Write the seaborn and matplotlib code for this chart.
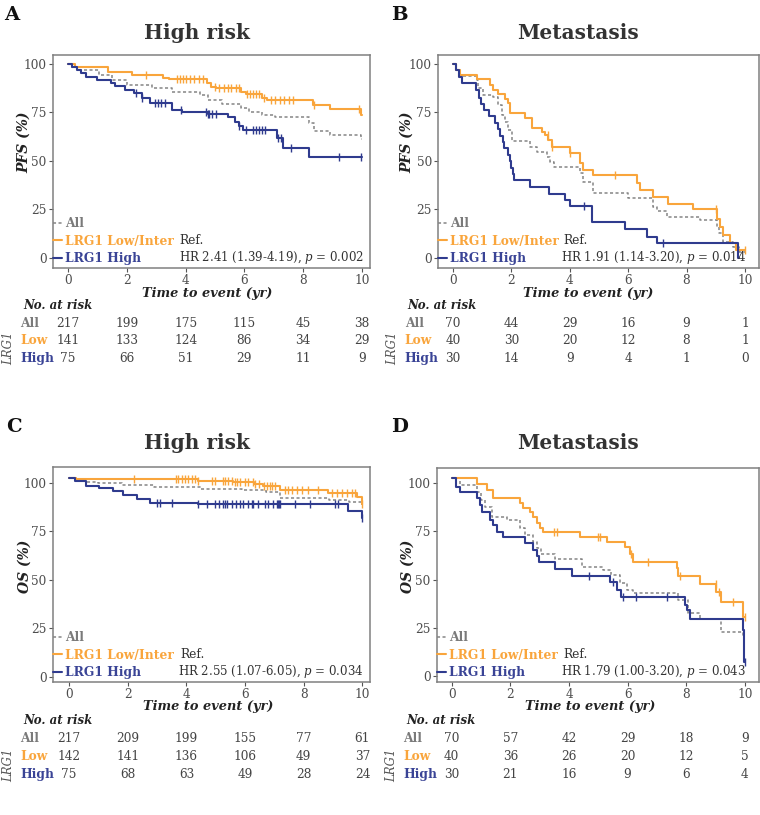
import matplotlib
matplotlib.use("Agg")
import matplotlib.pyplot as plt
import numpy as np
import seaborn as sns

sns.set_theme(style="white")
plt.rcParams["font.family"] = ["DejaVu Serif"]
plt.rcParams["mathtext.fontset"] = "dejavuserif"

ORANGE = "#F9A53C"
BLUE = "#2F3B8E"
GRAY = "#858585"
TEXT = "#4D4D4D"

# ---- Panel A: PFS, high risk ----
A_all_t = [0, 0.15, 0.35, 1.05, 1.5, 2.0, 2.85, 3.55, 4.5, 4.75, 5.25, 5.9, 6.15, 6.6, 7.05, 8.2, 8.35, 8.9, 9.98, 10.0]
A_all_s = [100, 98.5, 96.9, 94.3, 91.8, 89.2, 87.5, 85.5, 84.0, 81.4, 79.2, 77.2, 75.1, 73.8, 72.5, 69.4, 65.5, 63.4, 61.3, 61.3]
A_low_t = [0, 0.25, 1.37, 2.17, 3.24, 3.45, 4.72, 4.85, 5.05, 5.9, 6.05, 6.59, 6.76, 8.34, 8.91, 9.98, 10.0]
A_low_s = [100, 98.3, 95.7, 94.3, 92.6, 92.0, 90.0, 88.3, 87.4, 85.7, 84.3, 82.6, 81.4, 78.9, 76.6, 73.7, 73.7]
A_low_c = [2.66, 3.7, 3.8, 3.9, 4.0, 4.15, 4.3, 4.45, 4.6, 5.0, 5.15, 5.3, 5.45, 5.55, 5.7, 5.8, 6.1, 6.2,
           6.3, 6.4, 6.5, 6.65, 6.9, 7.05, 7.2, 7.35, 7.5, 7.65, 8.35, 9.9]
A_high_t = [0, 0.15, 0.3, 0.45, 0.6, 0.99, 1.45, 1.6, 1.95, 2.25, 2.5, 2.79, 3.53, 3.87, 4.75, 5.45, 5.68, 5.8, 5.96, 7.1, 7.32, 8.2, 10.0]
A_high_s = [100, 98.3, 96.9, 95.2, 93.5, 91.8, 90.2, 88.5, 86.8, 84.8, 82.5, 79.7, 76.3, 75.4, 74.1, 72.4, 70.3, 68.0, 65.8, 62.0, 56.7, 52.1, 52.1]
A_high_c = [2.3, 2.5, 2.95, 3.05, 3.15, 3.3, 3.85, 4.7, 4.75, 4.8, 4.9, 5.05, 5.8, 6.05, 6.3, 6.4, 6.5, 6.6, 6.7,
            7.15, 7.25, 7.6, 9.2, 9.98]
A_risk_all = [217, 199, 175, 115, 45, 38]
A_risk_low = [141, 133, 124, 86, 34, 29]
A_risk_high = [75, 66, 51, 29, 11, 9]

# ---- Panel B: PFS, metastasis ----
B_all_t = [0, 0.1, 0.24, 0.81, 0.86, 1.04, 1.38, 1.55, 1.67, 1.78, 1.9, 2.01, 2.64, 2.87, 3.21, 3.32, 3.45, 4.35,
           4.46, 4.8, 6.0, 6.86, 7.0, 7.32, 8.46, 9.03, 9.1, 9.25, 9.6, 9.8, 10.0]
B_all_s = [100, 97, 94, 91.8, 87.5, 84, 83.2, 78.9, 73.7, 70.3, 66, 60.3, 57.4, 54.8, 52.2, 49.6, 47, 43.7,
           39.3, 33.3, 30.8, 26.5, 24, 21.3, 19.6, 16.1, 12.7, 8.4, 5.8, 3.3, 3.3]
B_low_t = [0, 0.1, 0.25, 0.82, 1.28, 1.39, 1.56, 1.79, 1.9, 1.96, 2.47, 2.7, 3.04, 3.16, 3.27, 3.39, 4.0, 4.36,
           4.45, 4.81, 6.29, 6.39, 6.86, 7.38, 8.23, 9.03, 9.15, 9.26, 9.49, 9.7, 10.0]
B_low_s = [100, 97, 94.5, 92.4, 89.3, 86.7, 84.5, 82, 80, 74.7, 72, 67.2, 65, 63.4, 60.9, 57, 54, 48.8,
           45.3, 42.8, 38.4, 35, 31.6, 28, 25, 20.3, 16, 11.7, 7.8, 4, 4]
B_low_c = [3.25, 3.4, 4.0, 5.55, 9.0, 10.0]
B_high_t = [0, 0.12, 0.2, 0.3, 0.8, 0.9, 0.95, 1.05, 1.25, 1.45, 1.55, 1.6, 1.7, 1.75, 1.9, 1.95, 2.0, 2.05,
            2.1, 2.65, 3.3, 3.85, 4.0, 4.75, 5.9, 6.64, 6.98, 9.75, 9.78]
B_high_s = [100, 97, 93.5, 90, 86.5, 82.4, 79.5, 76.5, 73, 69.8, 66.3, 63, 59.7, 56.5, 53, 50, 46.5, 43,
            40, 36.5, 33, 30, 26.6, 18.7, 15, 11, 7.5, 0, 0]
B_high_c = [4.49, 7.18]
B_risk_all = [70, 44, 29, 16, 9, 1]
B_risk_low = [40, 30, 20, 12, 8, 1]
B_risk_high = [30, 14, 9, 4, 1, 0]

# ---- Panel C: OS, high risk ----
C_all_t = [0, 0.2, 0.55, 1.0, 1.8, 2.9, 4.5, 5.9, 6.7, 7.2, 8.85, 9.55, 9.98, 10.0]
C_all_s = [102.2, 101.2, 100.4, 99.6, 98.8, 97.8, 97.0, 96.0, 95.0, 92.2, 91.2, 90.2, 88.5, 88.5]
C_low_t = [0, 0.25, 4.4, 5.6, 6.3, 6.6, 7.2, 8.84, 9.82, 9.98, 10.0]
C_low_s = [102.5, 101.9, 101.0, 100.2, 99.4, 98.4, 96.2, 94.5, 92.4, 88.8, 88.8]
C_low_c = [2.22, 3.64, 3.71, 3.84, 3.96, 4.07, 4.18, 4.3, 4.41, 4.86, 4.98, 5.26, 5.32, 5.43, 5.55, 5.66, 5.72,
           5.83, 6.0, 6.11, 6.28, 6.34, 6.46, 6.63, 6.74, 6.85, 6.91, 7.02, 7.36, 7.48, 7.59, 7.76, 7.93, 8.16,
           8.5, 8.95, 9.13, 9.3, 9.47, 9.64, 9.75, 10.0]
C_high_t = [0, 0.2, 0.57, 1.03, 1.5, 1.85, 2.33, 2.75, 4.41, 9.52, 9.98, 10.0]
C_high_s = [102.2, 101.1, 98.5, 97.3, 95.6, 93.9, 91.5, 89.8, 88.9, 85.5, 81.8, 81.8]
C_high_c = [2.99, 3.1, 3.5, 4.41, 4.7, 4.98, 5.1, 5.26, 5.32, 5.4, 5.55, 5.7, 5.83, 5.94, 6.11, 6.23, 6.28, 6.45,
            6.68, 6.79, 6.96, 7.1, 7.13, 7.16, 7.19, 7.7, 8.21, 9.06, 9.18, 9.98]
C_risk_all = [217, 209, 199, 155, 77, 61]
C_risk_low = [142, 141, 136, 106, 49, 37]
C_risk_high = [75, 68, 63, 49, 28, 24]

# ---- Panel D: OS, metastasis ----
D_all_t = [0, 0.28, 0.85, 1.0, 1.14, 1.36, 1.87, 2.33, 2.5, 2.78, 2.9, 3.06, 3.52, 4.43, 5.17, 5.45, 5.74, 5.97,
           6.2, 7.73, 8.07, 8.47, 9.2, 9.94, 10.0]
D_all_s = [102.6, 99.1, 95.7, 91.5, 87.9, 82.7, 81.0, 76.6, 73.1, 69.6, 66.2, 63.2, 60.5, 56.7, 55.0, 52.4, 48.0,
           44.6, 42.9, 39.4, 32.4, 29.3, 22.9, 19.4, 19.4]
D_low_t = [0, 0.85, 1.19, 1.42, 2.33, 2.44, 2.67, 2.78, 2.9, 3.0, 3.13, 4.38, 5.28, 5.91, 6.08, 6.19, 7.67, 7.73,
           8.47, 9.03, 9.2, 9.94, 10.0]
D_low_s = [102.6, 99.7, 96.5, 92.2, 89.6, 87.3, 85.3, 82.7, 79.2, 77, 74.5, 71.9, 69.3, 66.7, 63.3, 59.3, 55.8, 52,
           47.7, 43.3, 38.1, 30.3, 30.3]
D_low_c = [3.5, 3.6, 4.98, 5.05, 6.1, 6.7, 7.8, 9.0, 9.1, 9.6, 10.0]
D_high_t = [0, 0.15, 0.28, 0.85, 0.97, 1.05, 1.31, 1.4, 1.53, 1.76, 2.5, 2.78, 2.9, 2.99, 3.52, 4.11, 5.4, 5.63,
            5.76, 7.95, 8.03, 8.13, 9.94, 9.97, 10.0]
D_high_s = [102.6, 98.3, 95.7, 92.2, 88.7, 85.3, 80.9, 78.3, 74.9, 71.9, 68.8, 65.3, 62.4, 59.3, 55.3, 51.8, 48.5,
            44.5, 40.7, 36.7, 34.1, 29.5, 23.7, 7.3, 7.3]
D_high_c = [4.7, 5.5, 5.85, 6.3, 7.35, 10.0]
D_risk_all = [70, 57, 42, 29, 18, 9]
D_risk_low = [40, 36, 26, 20, 12, 5]
D_risk_high = [30, 21, 16, 9, 6, 4]

risk_times = [0, 2, 4, 6, 8, 10]
group_labels = ["All", "LRG1 Low/Inter", "LRG1 High"]
row_labels = ["All", "Low", "High"]
group_colors = [GRAY, ORANGE, BLUE]
label_colors = ["#7A7A7A", ORANGE, "#3A4496"]


def censor_y(t, s, cens):
    idx = np.searchsorted(t, cens, side="right") - 1
    return np.asarray(s)[idx]


def draw_panel(ax, tab, curves, censors, risk, ylab, hr_text, xlim, ylim):
    for (t, s), cens, name, color in zip(curves, censors, group_labels, group_colors):
        sns.lineplot(x=t, y=s, ax=ax, color=color, drawstyle="steps-post", estimator=None,
                     label=name, linewidth=1.5 if name != "All" else 1.1)
        if name == "All":
            ax.get_lines()[-1].set_dashes((2, 1.6))
        if cens:
            sns.scatterplot(x=cens, y=censor_y(t, s, cens), ax=ax, marker="|", color=color,
                            s=30, linewidth=1.0, legend=False, zorder=3)

    ax.set_xlim(*xlim)
    ax.set_ylim(*ylim)
    ax.set_xticks(risk_times)
    ax.set_yticks([0, 25, 50, 75, 100])
    ax.tick_params(axis="both", length=3, width=0.8, color="#555555", labelsize=8.7,
                   labelcolor=TEXT, pad=1.5, bottom=True, left=True)
    for sp in ax.spines.values():
        sp.set_color("#808080")
        sp.set_linewidth(1.1)
    ax.set_xlabel("Time to event (yr)", fontsize=9.3, fontweight="bold", style="italic", color="#222222")
    ax.set_ylabel(ylab, fontsize=10, fontweight="bold", style="italic", color="#222222")

    # legend rows sit ~10, 27 and 45 px above the bottom spine
    h_px = ax.get_position().height * fig.get_figheight() * fig.dpi
    leg = ax.legend(loc="lower left", bbox_to_anchor=(0, 3.0 / h_px), frameon=False,
                    handlelength=0.75, handletextpad=0.2, borderpad=0, borderaxespad=0,
                    labelspacing=0.36, prop={"weight": "bold", "size": 8.8})
    for txt, c in zip(leg.get_texts(), label_colors):
        txt.set_color(c)

    ax.annotate("Ref.", xy=(3.8, 0), xycoords=("data", "axes fraction"), xytext=(0, 19.8),
                textcoords="offset points", va="center", ha="left", fontsize=8.8, color="#333333")
    ax.annotate(hr_text, xy=(10.05, 0), xycoords=("data", "axes fraction"), xytext=(0, 7.2),
                textcoords="offset points", va="center", ha="right", fontsize=8.5, color="#333333")

    # number-at-risk table
    tab.set_xlim(*xlim)
    tab.set_ylim(3.5, -0.5)
    tab.axis("off")
    tab.text(-0.095, 0, "No. at risk", transform=tab.get_yaxis_transform(), fontsize=8.5,
             fontweight="bold", style="italic", color="#222222", va="center", ha="left")
    for row, (lab, vals, c) in enumerate(zip(row_labels, risk, label_colors), start=1):
        tab.text(-0.104, row, lab, transform=tab.get_yaxis_transform(), fontsize=8.8,
                 fontweight="bold", color=c, va="center", ha="left")
        for x, v in zip(risk_times, vals):
            tab.text(x, row, str(v), fontsize=8.7, color="#444444", va="center", ha="center")
    tab.text(-0.14, 2.45, "LRG1", transform=tab.get_yaxis_transform(), fontsize=8.5, style="italic",
             color="#555555", rotation=90, va="center", ha="center")


W, H = 760, 815
fig = plt.figure(figsize=(W / 100, H / 100), dpi=100)


def px_axes(left, top, right, bottom):
    return fig.add_axes([left / W, 1 - bottom / H, (right - left) / W, (bottom - top) / H])


axA = px_axes(53, 55, 370, 268)
tabA = px_axes(53, 297, 370, 367)
axB = px_axes(438, 55, 759, 268)
tabB = px_axes(438, 297, 759, 367)
axC = px_axes(53, 467, 370, 682)
tabC = px_axes(53, 711, 370, 784)
axD = px_axes(437, 468, 759, 682)
tabD = px_axes(437, 711, 759, 784)

draw_panel(axA, tabA, [(A_all_t, A_all_s), (A_low_t, A_low_s), (A_high_t, A_high_s)],
           [[], A_low_c, A_high_c], [A_risk_all, A_risk_low, A_risk_high],
           "PFS (%)", "HR 2.41 (1.39-4.19), $p$ = 0.002", (-0.51, 10.27), (-5.2, 104.6))
draw_panel(axB, tabB, [(B_all_t, B_all_s), (B_low_t, B_low_s), (B_high_t, B_high_s)],
           [[], B_low_c, B_high_c], [B_risk_all, B_risk_low, B_risk_high],
           "PFS (%)", "HR 1.91 (1.14-3.20), $p$ = 0.014", (-0.51, 10.48), (-5.2, 104.6))
draw_panel(axC, tabC, [(C_all_t, C_all_s), (C_low_t, C_low_s), (C_high_t, C_high_s)],
           [[], C_low_c, C_high_c], [C_risk_all, C_risk_low, C_risk_high],
           "OS (%)", "HR 2.55 (1.07-6.05), $p$ = 0.034", (-0.55, 10.26), (-2.7, 108.1))
draw_panel(axD, tabD, [(D_all_t, D_all_s), (D_low_t, D_low_s), (D_high_t, D_high_s)],
           [[], D_low_c, D_high_c], [D_risk_all, D_risk_low, D_risk_high],
           "OS (%)", "HR 1.79 (1.00-3.20), $p$ = 0.043", (-0.5, 10.48), (-3.3, 108.0))

for ax, lx, ly in [(axA, 0.486, -0.09), (axB, 0.467, -0.09), (axC, 0.489, -0.084), (axD, 0.475, -0.084)]:
    ax.xaxis.set_label_coords(lx, ly)
for ax, lx, ly in [(axA, -0.068, 0.59), (axB, -0.074, 0.59), (axC, -0.068, 0.54), (axD, -0.07, 0.54)]:
    ax.yaxis.set_label_coords(lx, ly)

# panel titles and letters
for (x, y, s) in [(197, 33, "High risk"), (578, 33, "Metastasis"), (197, 443, "High risk"), (578, 443, "Metastasis")]:
    fig.text(x / W, 1 - y / H, s, fontsize=14.5, fontweight="bold", color="#333333", ha="center", va="center")
for (x, y, s) in [(4, 15, "A"), (391, 15, "B"), (6, 427, "C"), (391, 427, "D")]:
    fig.text(x / W, 1 - y / H, s, fontsize=14, fontweight="bold", color="#111111", ha="left", va="center")

fig.savefig("out.png", dpi=100)
